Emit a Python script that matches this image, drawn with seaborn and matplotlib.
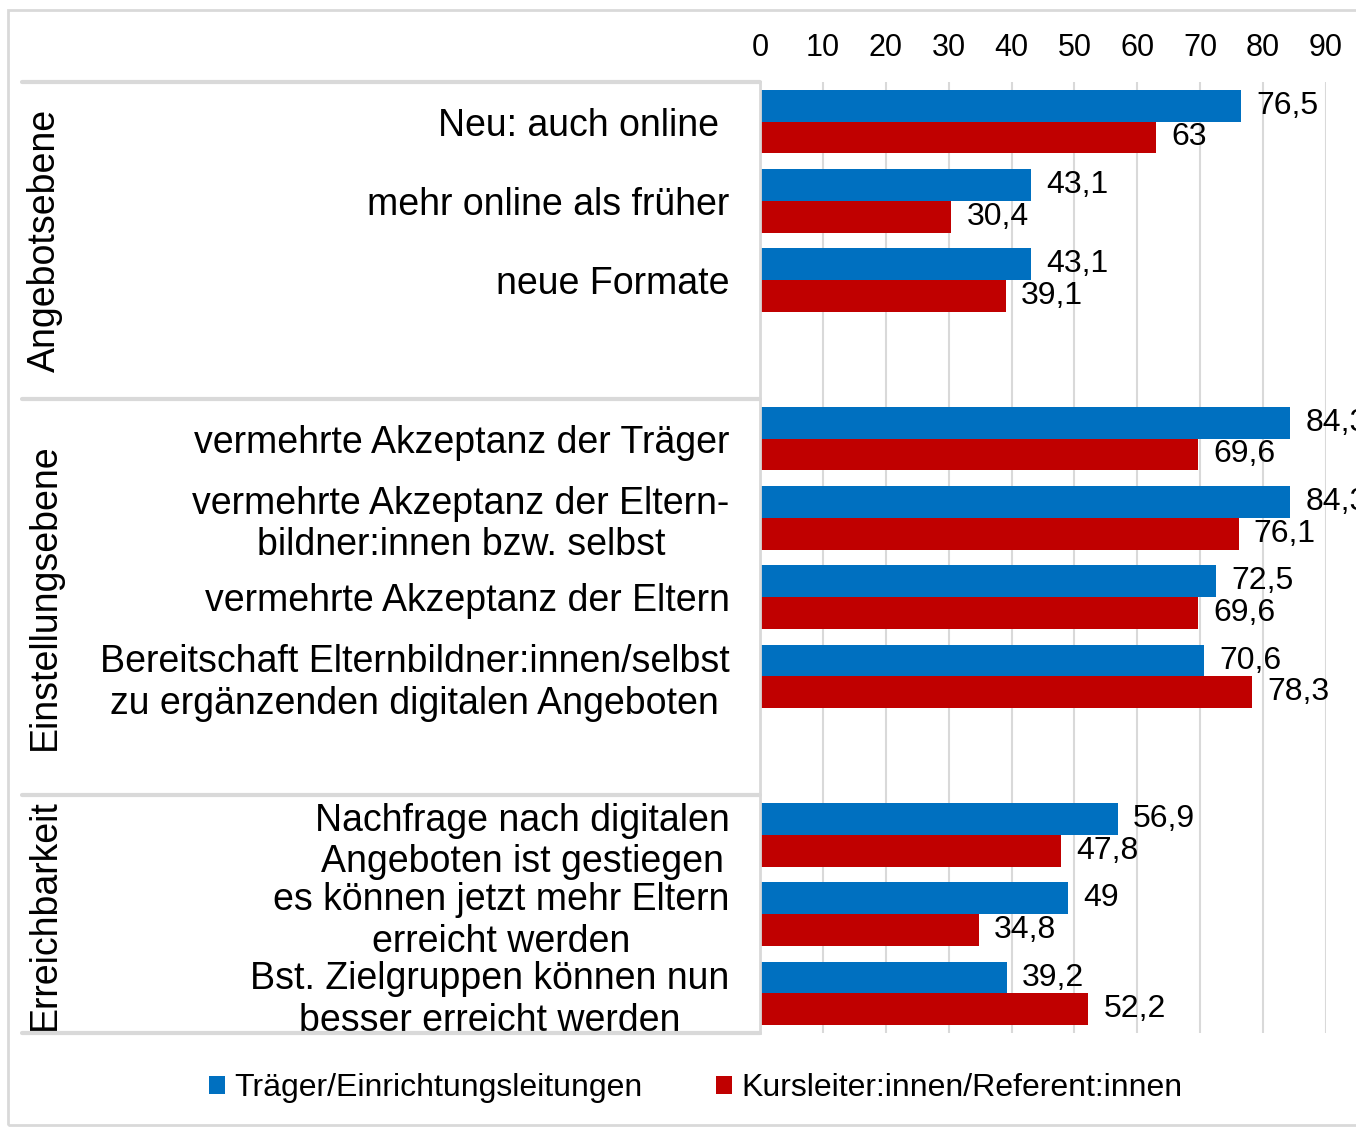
import pandas as pd
import matplotlib
matplotlib.use("Agg")
import matplotlib.pyplot as plt
import matplotlib.transforms as mtransforms
from matplotlib.lines import Line2D
from matplotlib.patches import Rectangle
import seaborn as sns

# Daten
groups = ["Angebotsebene", "Einstellungsebene", "Erreichbarkeit"]
cats_angebot = ["Neu: auch online", "mehr online als früher", "neue Formate"]
cats_einstellung = [
    "vermehrte Akzeptanz der Träger",
    "vermehrte Akzeptanz der Eltern-\nbildner:innen bzw. selbst",
    "vermehrte Akzeptanz der Eltern",
    "Bereitschaft Elternbildner:innen/selbst\nzu ergänzenden digitalen Angeboten",
]
cats_erreich = [
    "Nachfrage nach digitalen\nAngeboten ist gestiegen",
    "es können jetzt mehr Eltern\nerreicht werden",
    "Bst. Zielgruppen können nun\nbesser erreicht werden",
]
series = ["Träger/Einrichtungsleitungen", "Kursleiter:innen/Referent:innen"]
traeger = [76.5, 43.1, 43.1, 84.3, 84.3, 72.5, 70.6, 56.9, 49, 39.2]
kursleiter = [63, 30.4, 39.1, 69.6, 76.1, 69.6, 78.3, 47.8, 34.8, 52.2]

colors = ["#0070C0", "#C00000"]
grid_col = "#D9D9D9"

cats = cats_angebot + cats_einstellung + cats_erreich
df = pd.DataFrame({
    "Kategorie": cats * 2,
    "Wert": traeger + kursleiter,
    "Gruppe": [series[0]] * len(cats) + [series[1]] * len(cats),
})
# leere Zeilen zwischen den Gruppen
order = cats_angebot + [" "] + cats_einstellung + ["  "] + cats_erreich

sns.set_style("white")
plt.rcParams["font.family"] = ["Liberation Sans", "DejaVu Sans"]
plt.rcParams["text.color"] = "black"
plt.rcParams["xtick.color"] = "black"
plt.rcParams["ytick.color"] = "black"

W, H = 1356, 1127
fig = plt.figure(figsize=(W / 100, H / 100), dpi=100)
ax = fig.add_axes([760 / W, 1 - 1033 / H, (1326 - 760) / W, (1033 - 82) / H])

sns.barplot(data=df, y="Kategorie", x="Wert", hue="Gruppe", order=order,
            palette=colors, orient="h", width=0.8, saturation=1,
            errorbar=None, linewidth=0, ax=ax)

for c in ax.containers:
    ax.bar_label(c, fmt=lambda v: f"{v:g}".replace(".", ","), padding=11,
                 fontsize=23, color="black", clip_on=False)

ax.set_xlim(0, 90)
ax.set_ylim(len(order) - 0.5, -0.5)
ax.set_xticks(range(0, 91, 10))
ax.xaxis.grid(True, color=grid_col, lw=1.5)
ax.set_axisbelow(True)
ax.tick_params(axis="x", top=True, labeltop=True, bottom=False,
               labelbottom=False, length=0, pad=14, labelsize=22)
ax.tick_params(axis="y", length=0, pad=22, labelsize=27)
ax.set_yticks(range(len(order)))
ax.set_yticklabels(order)
for t in ax.get_yticklabels():
    t.set_multialignment("center")
    if t.get_text() == "Neu: auch online":
        # leicht eingerückt wie im Original
        t.set_transform(t.get_transform() + mtransforms.ScaledTranslation(-0.1, 0, fig.dpi_scale_trans))
ax.set_xlabel("")
ax.set_ylabel("")
for s in ["top", "right", "bottom"]:
    ax.spines[s].set_visible(False)
ax.spines["left"].set_color(grid_col)
ax.spines["left"].set_linewidth(2)

# Gruppentrennlinien und Gruppenbeschriftung
trans = mtransforms.blended_transform_factory(fig.transFigure, ax.transData)
for yb in [-0.5, 3.5, 8.5, len(order) - 0.5]:
    fig.add_artist(Line2D([22 / W, 760 / W], [yb, yb], transform=trans,
                          color=grid_col, lw=3))
for name, yc in zip(groups, [1.5, 6, 10]):
    fig.text(45 / W, yc, name, transform=trans, rotation=90, fontsize=27,
             ha="center", va="center")

# Rahmen
fig.add_artist(Rectangle((8 / W, 1 - 1125 / H), 1.2, (1125 - 10) / H,
                         transform=fig.transFigure, fill=False,
                         edgecolor=grid_col, lw=2))

handles, labels = ax.get_legend_handles_labels()
ax.get_legend().remove()
fig.legend(handles, labels, loc="center", bbox_to_anchor=(696 / W, 1 - 1088 / H),
           ncol=2, frameon=False, fontsize=23, handlelength=0.5,
           handleheight=0.5, handletextpad=0.3, columnspacing=2.3)

fig.savefig("out.png", dpi=100)
